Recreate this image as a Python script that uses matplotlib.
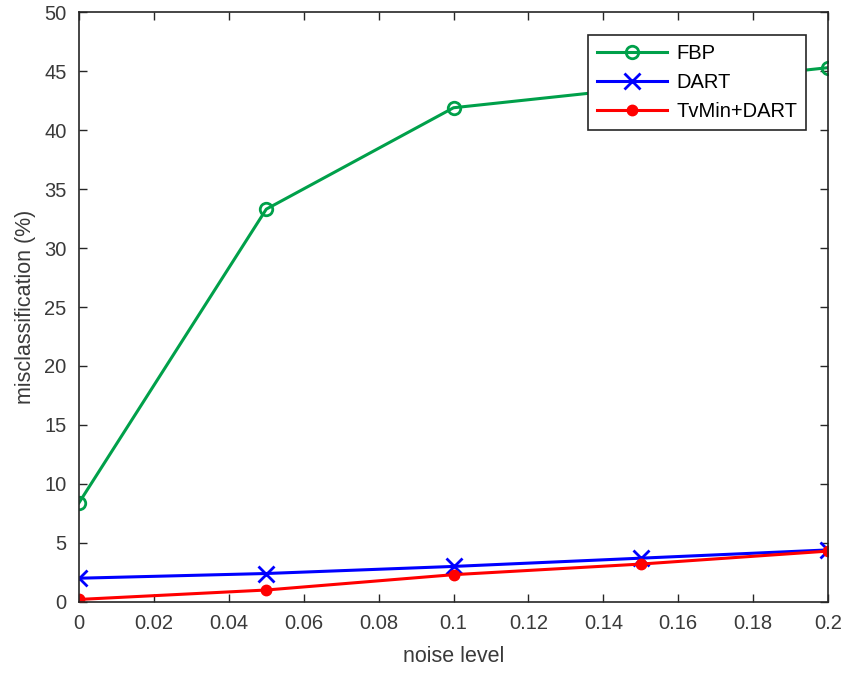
import matplotlib
matplotlib.use("Agg")
import matplotlib.pyplot as plt

plt.rcParams['font.family'] = ['Liberation Sans', 'DejaVu Sans']

noise = [0, 0.05, 0.1, 0.15, 0.2]
fbp = [8.4, 33.3, 41.9, 43.6, 45.3]
dart = [2.0, 2.4, 3.0, 3.7, 4.4]
tvmin_dart = [0.2, 1.0, 2.3, 3.2, 4.3]

x_ticks = [0, 0.02, 0.04, 0.06, 0.08, 0.1, 0.12, 0.14, 0.16, 0.18, 0.2]
x_labels = ['0', '0.02', '0.04', '0.06', '0.08', '0.1', '0.12', '0.14', '0.16', '0.18', '0.2']
y_ticks = list(range(0, 51, 5))

axis_color = '#262626'
text_color = '#3a3a3a'

fig = plt.figure(figsize=(8.45, 6.8), dpi=100)
ax = fig.add_axes([0.0935, 0.115, 0.8865, 0.867])

ax.plot(noise, fbp, color='#00A04A', lw=2.2, marker='o', ms=9, mfc='none',
        mew=2, label='FBP')
ax.plot(noise, dart, color='#0000FF', lw=2.2, marker='x', ms=12, mew=2,
        label='DART')
ax.plot(noise, tvmin_dart, color='#FF0000', lw=2.2, marker='o', ms=7.5,
        label='TvMin+DART')

ax.set_xlim(0, 0.2)
ax.set_ylim(0, 50)
ax.set_xticks(x_ticks)
ax.set_xticklabels(x_labels)
ax.set_yticks(y_ticks)

ax.tick_params(direction='in', length=6, width=1, colors=axis_color,
               labelcolor=text_color, labelsize=14.5, top=True, right=True,
               pad=9)
for s in ax.spines.values():
    s.set_color(axis_color)
    s.set_linewidth(1.2)

ax.set_xlabel('noise level', fontsize=15.5, color=text_color, labelpad=9)
ax.set_ylabel('misclassification (%)', fontsize=15.5, color=text_color,
              labelpad=6)

leg = ax.legend(loc='upper right', bbox_to_anchor=(0.971, 0.962),
                fontsize=14.5, frameon=True, fancybox=False, handlelength=3.5,
                borderpad=0.45, labelspacing=0.5, handletextpad=0.45,
                borderaxespad=0)
leg.get_frame().set_edgecolor(axis_color)
leg.get_frame().set_linewidth(1.2)
leg.get_frame().set_alpha(1)

fig.savefig('out.png', dpi=100)
